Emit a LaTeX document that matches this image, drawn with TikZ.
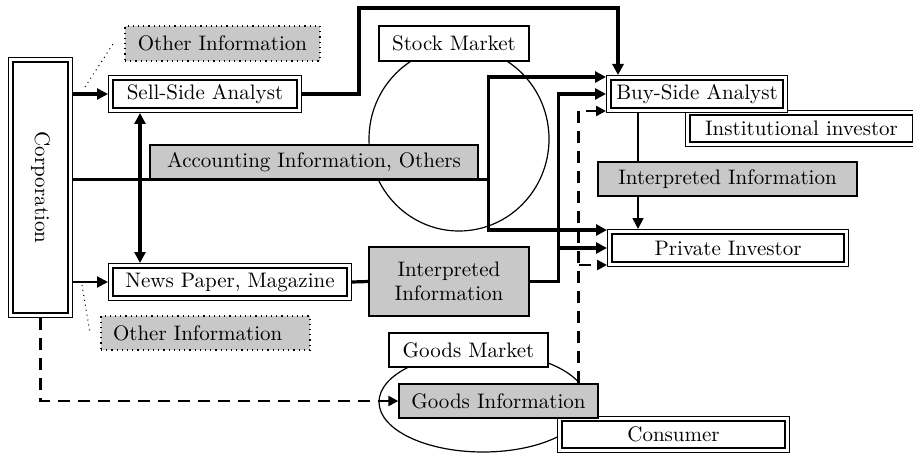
\documentclass[tikz,border=0pt]{standalone}
\usepackage{tikz}
\usetikzlibrary{arrows.meta, positioning, backgrounds}

\definecolor{infogray}{RGB}{200,200,200}

\tikzset{
	dbox/.style={draw, double, line width=0.7pt, double distance=1.4pt, fill=white, inner sep=0pt, outer sep=1.4pt},
	gbox/.style={draw, line width=0.7pt, fill=infogray, inner sep=0pt},
	obox/.style={draw, dotted, line width=0.6pt, fill=infogray, inner sep=0pt},
	wbox/.style={draw, line width=0.7pt, fill=white, inner sep=0pt},
	arrowtip/.style={-{Triangle[length=5.5pt,width=5.5pt]}},
	flow/.style={arrowtip, line width=1.6pt},
	flowmid/.style={arrowtip, line width=1.1pt},
	flowthin/.style={arrowtip, line width=0.8pt},
	flowboth/.style={{Triangle[length=5.5pt,width=5.5pt]}-{Triangle[length=5.5pt,width=5.5pt]}, line width=1.6pt},
	flowdash/.style={-{Triangle[length=5pt,width=5pt]}, line width=1.3pt, dash pattern=on 6pt off 4pt},
	leader/.style={dotted, line width=0.5pt},
}

\begin{document}
\begin{tikzpicture}[x=0.5pt, y=-0.5pt, every node/.style={font=\fontsize{10.5}{12}\selectfont}]
	\clip (0,0) rectangle (913,454);

	% boxes
	\node[dbox, minimum width=29.7pt, minimum height=127.7pt] (corp) at (40.5,187.5) {\rotatebox{-90}{Corporation}};
	\node[obox, minimum width=97.5pt, minimum height=17.5pt] (other1) at (222.5,43.5) {Other Information};
	\node[dbox, minimum width=94.2pt, minimum height=16.2pt] (sell) at (205,94) {Sell-Side Analyst};
	\node[wbox, minimum width=75pt, minimum height=17.5pt] (stockm) at (454,43.5) {Stock Market};
	\node[gbox, minimum width=164pt, minimum height=17pt] (acc) at (314,162) {Accounting Information, Others};
	\node[dbox, minimum width=113.7pt, minimum height=15.7pt] (inst) at (801.5,128.5) {Institutional investor};
	\node[dbox, minimum width=88.2pt, minimum height=16.2pt] (buy) at (697,94) {Buy-Side Analyst};
	\node[gbox, minimum width=129.5pt, minimum height=17pt] (interp2) at (727.5,179) {Interpreted Information};
	\node[dbox, minimum width=118.2pt, minimum height=16.2pt] (priv) at (728,248) {Private Investor};
	\node[dbox, minimum width=119.2pt, minimum height=16.2pt] (newsp) at (230,282) {News Paper, Magazine};
	\node[gbox, minimum width=80pt, minimum height=34.5pt, align=center] (interp1) at (449,281.5) {Interpreted\\Information};
	\node[obox, inner xsep=6pt, text width=92.5pt, minimum height=17pt, align=left] (other2) at (205.5,333) {Other Information};
	\node[wbox, minimum width=79.5pt, minimum height=17pt] (goodsm) at (468.5,350) {Goods Market};
	\node[dbox, minimum width=113.7pt, minimum height=15.7pt] (cons) at (673.5,434.5) {Consumer};
	\node[gbox, minimum width=99.5pt, minimum height=17pt] (goodsinfo) at (498.5,401) {Goods Information};

	% bends of the routes
	\coordinate (bus) at ([xshift=5pt]acc.south east);
	\coordinate (ibus) at ([xshift=14.5pt]interp1.east);
	\coordinate (r1) at (359,8);
	\coordinate (d0) at ([xshift=-10pt]goodsinfo.north east);
	\coordinate (d1) at ([yshift=1pt]buy.south west);
	\coordinate (d2) at ([yshift=1pt]priv.south west);
	\coordinate (b1) at ([xshift=16pt]buy.south west);
	\coordinate (l1a) at (85,87);
	\coordinate (l1b) at (113,44);
	\coordinate (l2a) at (82,285);
	\coordinate (l2b) at (90,333);

	\begin{pgfonlayer}{background}
		% markets
		\draw[line width=0.6pt] (459,139) ellipse [x radius=45pt, y radius=46pt];
		\draw[line width=0.6pt] (483,402) ellipse [x radius=52pt, y radius=25pt];

		\draw[flow] (corp.east |- sell.west) -- (sell.west);
		\draw[flowmid] (corp.east |- newsp.west) -- (newsp.west);
		\draw[flowboth] ([xshift=16pt]sell.south west) -- ([xshift=16pt]newsp.north west);
		\draw[flow] (sell.east) -| (r1) -| ([xshift=6pt]buy.north west);

		\draw[line width=1.6pt] (corp.east |- bus) -- (bus);
		\draw[flow] (bus) |- ([yshift=-1pt]buy.north west);
		\draw[flow] (bus) |- ([yshift=-0.5pt]priv.north west);

		\draw[line width=1.6pt] (newsp.east) -- (interp1.west);
		\draw[flow] (interp1.east) -- (ibus) |- (buy.west);
		\draw[flow] (ibus |- priv.west) -- (priv.west);

		\draw[flowdash] (d0) |- (d1);
		\draw[flowdash] (d0 |- d2) -- (d2);
		\draw[flowdash] (corp.south) |- (goodsinfo.west);

		\draw[flowthin] (b1) -- (b1 |- priv.north);

		\draw[leader] (l1a) -- (l1b);
		\draw[leader] (l2a) -- (l2b);
	\end{pgfonlayer}
\end{tikzpicture}
\end{document}
